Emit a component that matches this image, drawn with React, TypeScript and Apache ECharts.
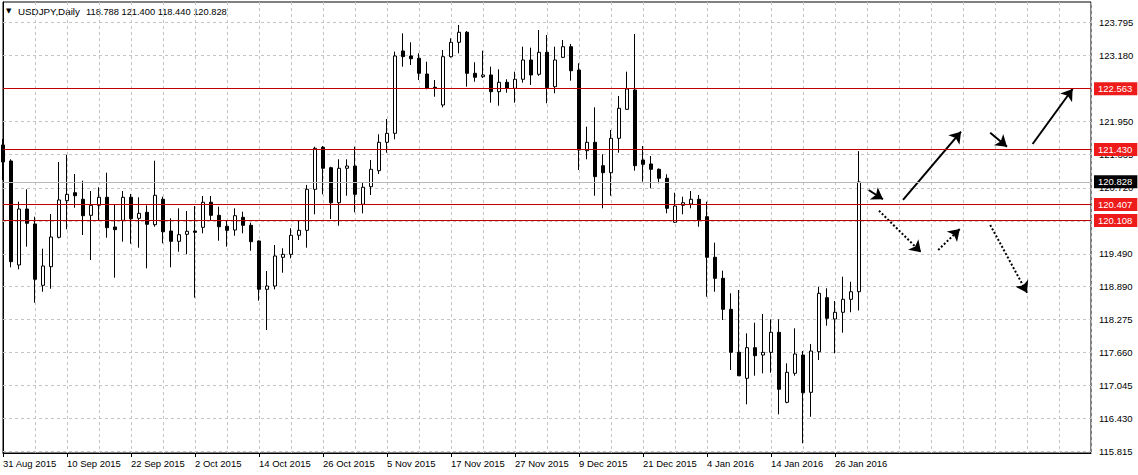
import React, { useEffect, useRef } from 'react';
import * as echarts from 'echarts';

const instrument = 'USDJPY';
const timeframe = 'Daily';

// daily bars: [open, high, low, close]
const bars: [number, number, number, number][] = [
  [121.515, 121.626, 120.864, 121.199],
  [121.217, 121.249, 119.242, 119.346],
  [119.285, 120.461, 119.205, 120.325],
  [120.325, 120.691, 119.625, 120.06],
  [120.047, 120.182, 118.584, 119.019],
  [118.907, 119.588, 118.788, 119.266],
  [119.253, 120.232, 118.844, 119.805],
  [119.799, 121.199, 119.78, 120.493],
  [120.48, 121.334, 119.948, 120.598],
  [120.628, 120.976, 120.349, 120.572],
  [120.506, 120.851, 119.842, 120.201],
  [120.208, 120.66, 119.378, 120.394],
  [120.394, 120.729, 120.121, 120.543],
  [120.543, 121.0, 119.792, 119.978],
  [119.991, 120.413, 119.049, 119.941],
  [120.115, 120.66, 119.718, 120.543],
  [120.543, 120.604, 119.68, 120.145],
  [120.152, 120.543, 119.606, 120.245],
  [120.264, 120.394, 119.223, 120.041],
  [120.034, 121.223, 119.996, 120.58],
  [120.506, 120.554, 119.688, 119.903],
  [119.916, 120.152, 119.242, 119.725],
  [119.725, 120.338, 119.532, 119.848],
  [119.855, 120.288, 119.483, 119.911],
  [119.916, 120.381, 118.677, 119.892],
  [119.985, 120.567, 119.874, 120.45],
  [120.45, 120.567, 120.121, 120.208],
  [120.208, 120.368, 119.736, 119.996],
  [120.004, 120.121, 119.625, 119.929],
  [119.935, 120.338, 119.829, 120.201],
  [120.171, 120.275, 119.874, 120.022],
  [120.022, 120.071, 119.55, 119.718],
  [119.731, 119.74, 118.621, 118.833],
  [118.833, 119.173, 118.077, 118.894],
  [118.894, 119.656, 118.833, 119.452],
  [119.428, 119.595, 119.141, 119.483],
  [119.483, 119.967, 119.409, 119.837],
  [119.837, 120.102, 119.749, 119.929],
  [119.929, 120.771, 119.606, 120.691],
  [120.691, 121.483, 120.227, 121.453],
  [121.472, 121.496, 120.598, 121.082],
  [121.093, 121.11, 120.139, 120.442],
  [120.442, 121.249, 120.015, 121.082],
  [121.082, 121.249, 120.572, 121.124],
  [121.124, 121.483, 120.264, 120.598],
  [120.413, 120.814, 120.245, 120.729],
  [120.74, 121.236, 120.585, 121.063],
  [121.037, 121.713, 120.976, 121.565],
  [121.565, 121.998, 121.372, 121.732],
  [121.732, 123.249, 121.621, 123.169],
  [123.262, 123.59, 122.97, 123.156],
  [123.169, 123.423, 123.001, 123.118],
  [123.126, 123.219, 122.723, 122.847],
  [122.834, 123.063, 122.55, 122.568],
  [122.587, 122.723, 122.412, 122.568],
  [122.258, 123.28, 122.215, 123.156],
  [123.156, 123.498, 123.14, 123.423],
  [123.423, 123.745, 123.219, 123.609],
  [123.609, 123.633, 122.598, 122.847],
  [122.847, 123.052, 122.691, 122.773],
  [122.784, 123.267, 122.76, 122.816],
  [122.816, 122.97, 122.301, 122.505],
  [122.505, 122.921, 122.245, 122.68],
  [122.68, 122.736, 122.487, 122.568],
  [122.568, 122.877, 122.301, 122.736],
  [122.736, 123.341, 122.672, 123.094],
  [123.094, 123.323, 122.63, 122.816],
  [122.829, 123.652, 122.8, 123.237],
  [123.237, 123.559, 122.29, 122.58],
  [122.598, 123.341, 122.475, 123.094],
  [123.144, 123.466, 123.13, 123.341],
  [123.341, 123.392, 122.71, 122.895],
  [122.908, 123.033, 121.05, 121.422],
  [121.409, 121.855, 121.249, 121.565],
  [121.565, 122.215, 120.572, 120.926],
  [121.13, 121.342, 120.338, 121.0],
  [121.0, 121.793, 120.572, 121.639],
  [121.639, 122.425, 121.372, 122.197],
  [122.178, 122.877, 122.165, 122.555],
  [122.537, 123.577, 121.037, 121.13],
  [121.236, 121.496, 120.833, 121.156],
  [121.162, 121.31, 120.71, 121.063],
  [121.063, 121.08, 120.803, 120.896],
  [120.896, 120.97, 120.245, 120.338],
  [120.078, 120.628, 120.07, 120.381],
  [120.394, 120.554, 120.227, 120.442],
  [120.418, 120.66, 120.338, 120.506],
  [120.506, 120.585, 119.996, 120.121],
  [120.182, 120.461, 118.695, 119.428],
  [119.428, 119.699, 118.788, 119.037],
  [119.037, 119.179, 118.262, 118.461],
  [118.461, 118.759, 117.333, 117.662],
  [117.662, 118.82, 117.22, 117.227],
  [117.179, 118.015, 116.696, 117.748],
  [117.748, 118.212, 117.227, 117.599],
  [117.612, 118.374, 117.272, 117.662],
  [117.662, 118.275, 117.283, 118.034],
  [118.034, 118.275, 116.51, 116.975],
  [116.733, 117.458, 116.715, 117.291],
  [117.272, 118.108, 117.227, 117.631],
  [117.612, 117.686, 115.971, 116.911],
  [116.919, 117.816, 116.465, 117.686],
  [117.673, 118.881, 117.519, 118.759],
  [118.677, 118.852, 118.157, 118.294],
  [118.281, 118.616, 117.644, 118.406],
  [118.406, 119.067, 118.026, 118.647],
  [118.647, 118.974, 118.406, 118.788],
  [118.788, 121.4, 118.44, 120.828],
];

// date labels, one every 8 bars starting at the first bar
const dateLabels = [
  '31 Aug 2015', '10 Sep 2015', '22 Sep 2015', '2 Oct 2015', '14 Oct 2015',
  '26 Oct 2015', '5 Nov 2015', '17 Nov 2015', '27 Nov 2015', '9 Dec 2015',
  '21 Dec 2015', '4 Jan 2016', '14 Jan 2016', '26 Jan 2016',
];
const LABEL_EVERY = 8;
const VGRID_EVERY = 4;
const FUTURE_SLOTS = 29;

// price grid levels and the ones carrying a visible label
const priceGrid = [115.815, 116.43, 117.045, 117.66, 118.275, 118.89, 119.49, 120.105, 120.72, 121.335, 121.95, 122.565, 123.18, 123.795];
const priceLabels = [115.815, 116.43, 117.045, 117.66, 118.275, 118.89, 119.49, 120.72, 121.335, 121.95, 123.18, 123.795];
const levels = [122.563, 121.43, 120.407, 120.108];
const bidPrice = 120.828;
const Y_MIN = 115.791;
const Y_MAX = 124.172;

// scenario arrows: [[barIndex, price], [barIndex, price]]
const solidArrows = [
  [[108.2, 120.678], [110.0, 120.506]],
  [[112.5, 120.493], [119.75, 121.762]],
  [[123.4, 121.743], [125.5, 121.483]],
  [[128.7, 121.533], [133.7, 122.555]],
];
const dottedArrows = [
  [[109.5, 120.294], [114.75, 119.521]],
  [[116.9, 119.563], [119.6, 119.954]],
  [[123.4, 120.028], [128.0, 118.77]],
];

const FONT = 'Liberation Sans, Arial, sans-serif';
const AXIS_FONT_SIZE = 9.5;

export default function App() {
  const ref = useRef<HTMLDivElement>(null);
  useEffect(() => {
    if (!ref.current) return;
    const chart = echarts.init(ref.current, null, { renderer: 'svg' });
    const nSlots = bars.length + FUTURE_SLOTS;
    const slots = Array.from({ length: nSlots }, (_, i) => String(i));
    const last = bars[bars.length - 1];
    const isLabelIdx = (i: number) => i % LABEL_EVERY === 0 && i / LABEL_EVERY < dateLabels.length;

    const levelLine = (v: number, bg: string, lineColor: string) => ({
      yAxis: v,
      lineStyle: { color: lineColor, type: 'solid', width: 1 },
      label: {
        show: true,
        position: 'end',
        distance: 3,
        formatter: () => v.toFixed(3),
        color: '#fff',
        backgroundColor: bg,
        padding: [2, 5, 1, 4],
        fontSize: AXIS_FONT_SIZE,
        fontFamily: FONT,
      },
    });

    const option: any = {
      animation: false,
      backgroundColor: '#fff',
      textStyle: { fontFamily: FONT },
      grid: {
        left: 3, right: 47, top: 2, bottom: 22,
        show: true, borderColor: '#000', borderWidth: 1, containLabel: false,
      },
      xAxis: [
        {
          type: 'category',
          data: slots,
          boundaryGap: false,
          axisLine: { show: true, lineStyle: { color: '#000', width: 1 } },
          axisTick: { show: true, interval: (i: number) => isLabelIdx(i), length: 4, lineStyle: { color: '#000' } },
          axisLabel: {
            interval: (i: number) => isLabelIdx(i),
            formatter: (_v: string, i: number) => dateLabels[i / LABEL_EVERY] ?? '',
            align: 'left',
            color: '#000',
            fontSize: AXIS_FONT_SIZE,
            fontFamily: FONT,
            margin: 5,
          },
          splitLine: {
            show: true,
            interval: (i: number) => i % VGRID_EVERY === 0,
            lineStyle: { color: '#c4c4c4', type: [3, 3], width: 1 },
          },
        },
        { type: 'value', min: 0, max: nSlots - 1, show: false },
      ],
      yAxis: {
        type: 'value',
        position: 'right',
        min: Y_MIN,
        max: Y_MAX,
        axisLine: { show: true, lineStyle: { color: '#000' } },
        axisTick: { show: true, customValues: priceGrid, length: 3, lineStyle: { color: '#000' } },
        axisLabel: {
          customValues: priceLabels,
          formatter: (v: number) => v.toFixed(3),
          color: '#000',
          fontSize: AXIS_FONT_SIZE,
          fontFamily: FONT,
          margin: 8,
        },
        splitLine: { show: false },
      },
      graphic: [
        { type: 'text', left: 6, top: 7, style: { text: '▼', fontSize: 7, fill: '#000', fontFamily: 'DejaVu Sans' } },
        { type: 'text', left: 18, top: 6, style: { text: `${instrument},${timeframe}`, fontSize: 9.8, fill: '#000', fontFamily: FONT } },
        {
          type: 'text', left: 86, top: 7,
          style: { text: last.map((v) => v.toFixed(3)).join(' '), fontSize: 9.3, fill: '#000', fontFamily: FONT },
        },
      ],
      series: [
        {
          type: 'lines',
          coordinateSystem: 'cartesian2d',
          xAxisIndex: 1,
          yAxisIndex: 0,
          z: 1,
          silent: true,
          symbol: ['none', 'none'],
          lineStyle: { color: '#c4c4c4', type: [3, 3], width: 1, opacity: 1 },
          data: priceGrid.map((p) => ({ coords: [[0, p], [nSlots - 1, p]] })),
        },
        {
          type: 'candlestick',
          z: 2,
          silent: true,
          barWidth: 4,
          data: bars.map(([o, h, l, c]) => [o, c, l, h]),
          itemStyle: { color: '#fff', color0: '#000', borderColor: '#000', borderColor0: '#000', borderWidth: 1 },
          markLine: {
            silent: true,
            symbol: ['none', 'none'],
            data: [
              levelLine(bidPrice, '#000', '#b8b8b8'),
              ...levels.map((v) => levelLine(v, '#ee1b1b', '#c00000')),
            ],
          },
        },
        {
          type: 'lines',
          coordinateSystem: 'cartesian2d',
          xAxisIndex: 1,
          yAxisIndex: 0,
          z: 4,
          silent: true,
          symbol: ['none', 'arrow'],
          symbolSize: 11,
          lineStyle: { color: '#000', width: 2, type: 'solid', opacity: 1 },
          data: solidArrows.map((c) => ({ coords: c })),
        },
        {
          type: 'lines',
          coordinateSystem: 'cartesian2d',
          xAxisIndex: 1,
          yAxisIndex: 0,
          z: 4,
          silent: true,
          symbol: ['none', 'arrow'],
          symbolSize: 11,
          lineStyle: { color: '#000', width: 2, type: 'dotted', opacity: 1 },
          data: dottedArrows.map((c) => ({ coords: c })),
        },
      ],
    };
    chart.setOption(option);
    return () => chart.dispose();
  }, []);
  return (
    <div
      ref={ref}
      style={{ position: 'fixed', left: 0, top: 0, width: 1138, height: 475, background: '#fff' }}
    />
  );
}
